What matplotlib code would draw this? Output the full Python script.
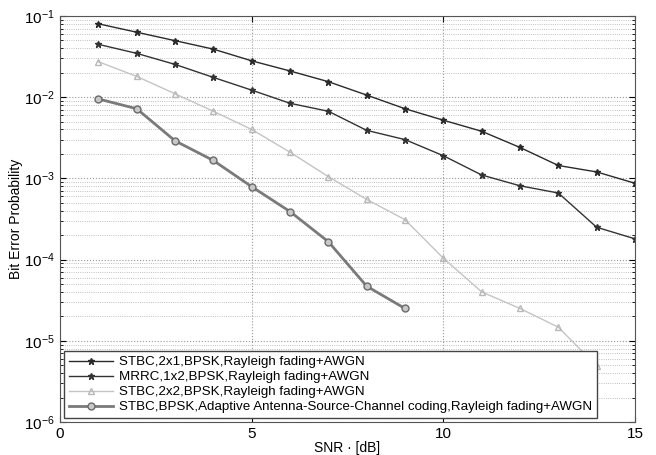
import matplotlib
matplotlib.use("Agg")
import matplotlib.pyplot as plt
from matplotlib.ticker import LogLocator, NullFormatter

plt.rcParams['font.family'] = ['Liberation Sans', 'DejaVu Sans']

snr_a = [1, 2, 3, 4, 5, 6, 7, 8, 9, 10, 11, 12, 13, 14, 15]
ber_stbc21 = [0.080, 0.063, 0.0496, 0.039, 0.028, 0.021, 0.0155, 0.0106, 0.0072,
              0.0052, 0.0038, 0.0024, 0.00144, 0.0012, 0.00087]
ber_mrrc12 = [0.0447, 0.0346, 0.0253, 0.0175, 0.0122, 0.0084, 0.0067, 0.0039, 0.0030,
              0.0019, 0.0011, 0.00081, 0.00066, 0.00025, 0.00018]
snr_b = [1, 2, 3, 4, 5, 6, 7, 8, 9, 10, 11, 12, 13, 14]
ber_stbc22 = [0.0273, 0.018, 0.011, 0.0067, 0.0040, 0.0021, 0.00105, 0.00055, 0.00031,
              0.000104, 4.0e-5, 2.5e-5, 1.47e-5, 4.9e-6]
snr_c = [1, 2, 3, 4, 5, 6, 7, 8, 9]
ber_adapt = [0.0095, 0.0072, 0.0029, 0.00166, 0.00079, 0.00039, 0.000166, 4.7e-5, 2.5e-5]

labels = ["STBC,2x1,BPSK,Rayleigh fading+AWGN",
          "MRRC,1x2,BPSK,Rayleigh fading+AWGN",
          "STBC,2x2,BPSK,Rayleigh fading+AWGN",
          "STBC,BPSK,Adaptive Antenna-Source-Channel coding,Rayleigh fading+AWGN"]

fig = plt.figure(figsize=(6.56, 4.55), dpi=100)
ax = fig.add_axes([0.0915, 0.0725, 0.8765, 0.8925])

ax.semilogy(snr_a, ber_stbc21, color='#2a2a2a', lw=1.0, marker='*', ms=5, label=labels[0])
ax.semilogy(snr_a, ber_mrrc12, color='#333333', lw=1.0, marker='*', ms=5, label=labels[1])
ax.semilogy(snr_b, ber_stbc22, color='#c4c4c4', lw=1.0, marker='^', ms=5,
            mfc='none', mec='#b8b8b8', label=labels[2])
ax.semilogy(snr_c, ber_adapt, color='#7a7a7a', lw=2.0, marker='o', ms=5,
            mfc='#c8c8c8', mec='#6a6a6a', label=labels[3])

ax.set_xlim(0, 15)
ax.set_ylim(1e-6, 1e-1)
ax.set_xticks([0, 5, 10, 15])
ax.yaxis.set_major_locator(LogLocator(base=10, numticks=10))
ax.yaxis.set_minor_locator(LogLocator(base=10, subs=range(2, 10), numticks=20))
ax.yaxis.set_minor_formatter(NullFormatter())
ax.tick_params(which='both', direction='in', top=True, right=True, labelsize=11)
ax.tick_params(which='major', length=4)
ax.tick_params(which='minor', length=2)

ax.grid(True, which='major', color='#999999', lw=0.8, ls=':')
ax.grid(True, which='minor', axis='y', color='#aaaaaa', lw=0.6, ls=':')
for s in ax.spines.values():
    s.set_color('#555555')

ax.set_xlabel("SNR · [dB]", fontsize=10, labelpad=0)
ax.set_ylabel("Bit Error Probability", fontsize=10)
ax.yaxis.set_label_coords(-0.065, 0.5)

leg = ax.legend(loc='lower left', fontsize=9.6, frameon=True, fancybox=False,
                borderpad=0.35, labelspacing=0.2, handlelength=3.3, handletextpad=0.5,
                borderaxespad=0.3)
leg.get_frame().set_edgecolor('#444444')
leg.get_frame().set_alpha(1)

fig.savefig("out.png", dpi=100)
